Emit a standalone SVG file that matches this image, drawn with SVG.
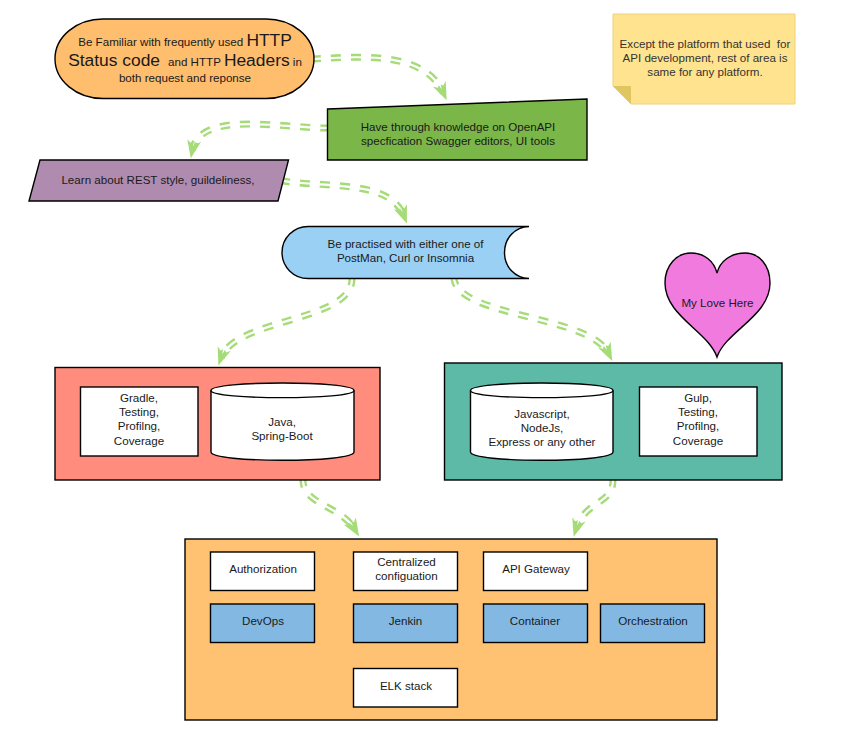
<svg xmlns="http://www.w3.org/2000/svg" width="850" height="733" viewBox="0 0 850 733">
<style>
text{font-family:"Liberation Sans",Arial,sans-serif;font-size:11.6px;fill:#1a1a1a;text-anchor:middle;white-space:pre}
.n{stroke:#000;stroke-width:1.4}
.w{fill:#fff;stroke:#000;stroke-width:1.4}
.b{fill:#83b8e2;stroke:#000;stroke-width:1.4}
.o{fill:none;stroke:#a6dc78;stroke-width:7;stroke-dasharray:10 10;stroke-dashoffset:3}
.i{fill:none;stroke:#fff;stroke-width:2.2;marker-end:url(#a)}
.big{font-size:17.4px}
.d{fill:#333}
</style>
<defs>
<marker id="a" markerUnits="userSpaceOnUse" markerWidth="20" markerHeight="16" refX="10" refY="8" orient="auto" viewBox="0 0 20 16">
<path d="M18 8L0 1L3 5L1 7L6 8L1 9L3 11L0 15Z" fill="#a6dc78"/>
</marker>
</defs>
<g id="connectors">
<path class="o" d="M314 59C365 56 425 52 443.400 93"/><path class="i" d="M314 59C365 56 425 52 443.400 93"/>
<path class="o" d="M327 128C280 128 200 110 192.300 150.300"/><path class="i" d="M327 128C280 128 200 110 192.300 150.300"/>
<path class="o" d="M283 181C330 188 390 180 404 216"/><path class="i" d="M283 181C330 188 390 180 404 216"/>
<path class="o" d="M352 279C352 322 235 318 221 358"/><path class="i" d="M352 279C352 322 235 318 221 358"/>
<path class="o" d="M454 279C460 318 590 315 608.700 353.700"/><path class="i" d="M454 279C460 318 590 315 608.700 353.700"/>
<path class="o" d="M303 480C303 505 340 505 355 529.700"/><path class="i" d="M303 480C303 505 340 505 355 529.700"/>
<path class="o" d="M613 480C613 505 585 500 576 529"/><path class="i" d="M613 480C613 505 585 500 576 529"/>
</g>
<g id="http-status">
<rect class="n" x="55" y="19" width="259" height="79.500" rx="48" ry="39.750" fill="#ffbd6e"/>
<text x="185" y="46"><tspan>Be Familiar with frequently used </tspan><tspan class="big">HTTP</tspan></text>
<text x="185" y="66"><tspan class="big">Status code </tspan><tspan> and HTTP </tspan><tspan class="big">Headers</tspan><tspan> in</tspan></text>
<text x="185" y="82">both request and reponse</text>
</g>
<g id="note">
<path d="M613 14H795V104H631L613 86Z" fill="#ffe38e" stroke="#eed27c" stroke-width="1"/>
<path d="M613 86H631V104Z" fill="#e0c562"/>
<text class="d" x="705" y="48">Except the platform that used  for</text>
<text class="d" x="705" y="62">API development, rest of area is</text>
<text class="d" x="705" y="76">same for any platform.</text>
</g>
<g id="openapi">
<path class="n" d="M327.500 109L587 99V160H327.500Z" fill="#7ab648"/>
<text x="458" y="131">Have through knowledge on OpenAPI</text>
<text x="458" y="145">specfication Swagger editors, UI tools</text>
</g>
<g id="rest">
<path class="n" d="M40 160H288.500L278 201H29Z" fill="#b08bb0"/>
<text x="158" y="184">Learn about REST style, guildeliness,</text>
</g>
<g id="postman">
<path d="M529 226.500H308A26 26 0 0 0 308 278.500H529C515 278 504.500 267 504.500 252.500C504.500 238 515 227 529 226.500Z" fill="#99d0f3"/>
<path class="n" fill="none" d="M529 226.500H308A26 26 0 0 0 308 278.500H529M529 226.500C515 227 504.500 238 504.500 252.500C504.500 267 515 278 529 278.500"/>
<text x="405.500" y="248">Be practised with either one of</text>
<text x="405.500" y="262">PostMan, Curl or Insomnia</text>
</g>
<g id="heart">
<path class="n" d="M717 357C708 331 665 316 665 283C665 265 677 253 691 253C704 253 714 261 717 273C720 261 731 253 745 253C759 253 770 265 770 283C770 316 726 331 717 357Z" fill="#f07ade"/>
<text x="717.500" y="307">My Love Here</text>
</g>
<g id="java-group">
<rect class="n" x="55" y="367.500" width="325" height="112.500" fill="#ff8c7d"/>
<rect class="w" x="80.500" y="387" width="117.500" height="69"/>
<text x="139" y="402">Gradle,</text><text x="139" y="416">Testing,</text><text x="139" y="430">Profilng,</text><text x="139" y="445">Coverage</text>
<path class="w" d="M211 390.500C211 380.500 354 380.500 354 390.500V452C354 463 211 463 211 452Z"/>
<path class="n" fill="none" d="M211 390.500C211 400 354 400 354 390.500"/>
<text x="282" y="426">Java,</text><text x="282" y="440">Spring-Boot</text>
</g>
<g id="js-group">
<rect class="n" x="444.500" y="363" width="337.500" height="117" fill="#5cbaa6"/>
<path class="w" d="M470.500 390.500C470.500 380.500 613 380.500 613 390.500V452C613 463 470.500 463 470.500 452Z"/>
<path class="n" fill="none" d="M470.500 390.500C470.500 400 613 400 613 390.500"/>
<text x="542" y="418">Javascript,</text><text x="542" y="432">NodeJs,</text><text x="542" y="446">Express or any other</text>
<rect class="w" x="639.500" y="387" width="117.500" height="69"/>
<text x="698" y="402">Gulp,</text><text x="698" y="416">Testing,</text><text x="698" y="430">Profilng,</text><text x="698" y="445">Coverage</text>
</g>
<g id="platform-group">
<rect class="n" x="185" y="539" width="532" height="181" fill="#ffc172"/>
</g>
<g id="authorization"><rect class="w" x="210.500" y="552" width="104" height="38.500"/><text x="263" y="573">Authorization</text></g>
<g id="configuration"><rect class="w" x="353.500" y="552" width="104" height="38.500"/><text x="406.500" y="566">Centralized</text><text x="406.500" y="580">configuation</text></g>
<g id="gateway"><rect class="w" x="483.500" y="552" width="104" height="38.500"/><text x="536" y="573">API Gateway</text></g>
<g id="devops"><rect class="b" x="210.500" y="604" width="104" height="38.500"/><text x="263" y="625">DevOps</text></g>
<g id="jenkin"><rect class="b" x="353.500" y="604" width="104" height="38.500"/><text x="405.500" y="625">Jenkin</text></g>
<g id="container"><rect class="b" x="483.500" y="604" width="104" height="38.500"/><text x="535" y="625">Container</text></g>
<g id="orchestration"><rect class="b" x="600.500" y="604" width="104" height="38.500"/><text x="653" y="625">Orchestration</text></g>
<g id="elk"><rect class="w" x="353.500" y="668.500" width="104" height="38.500"/><text x="406" y="690">ELK stack</text></g>
</svg>
